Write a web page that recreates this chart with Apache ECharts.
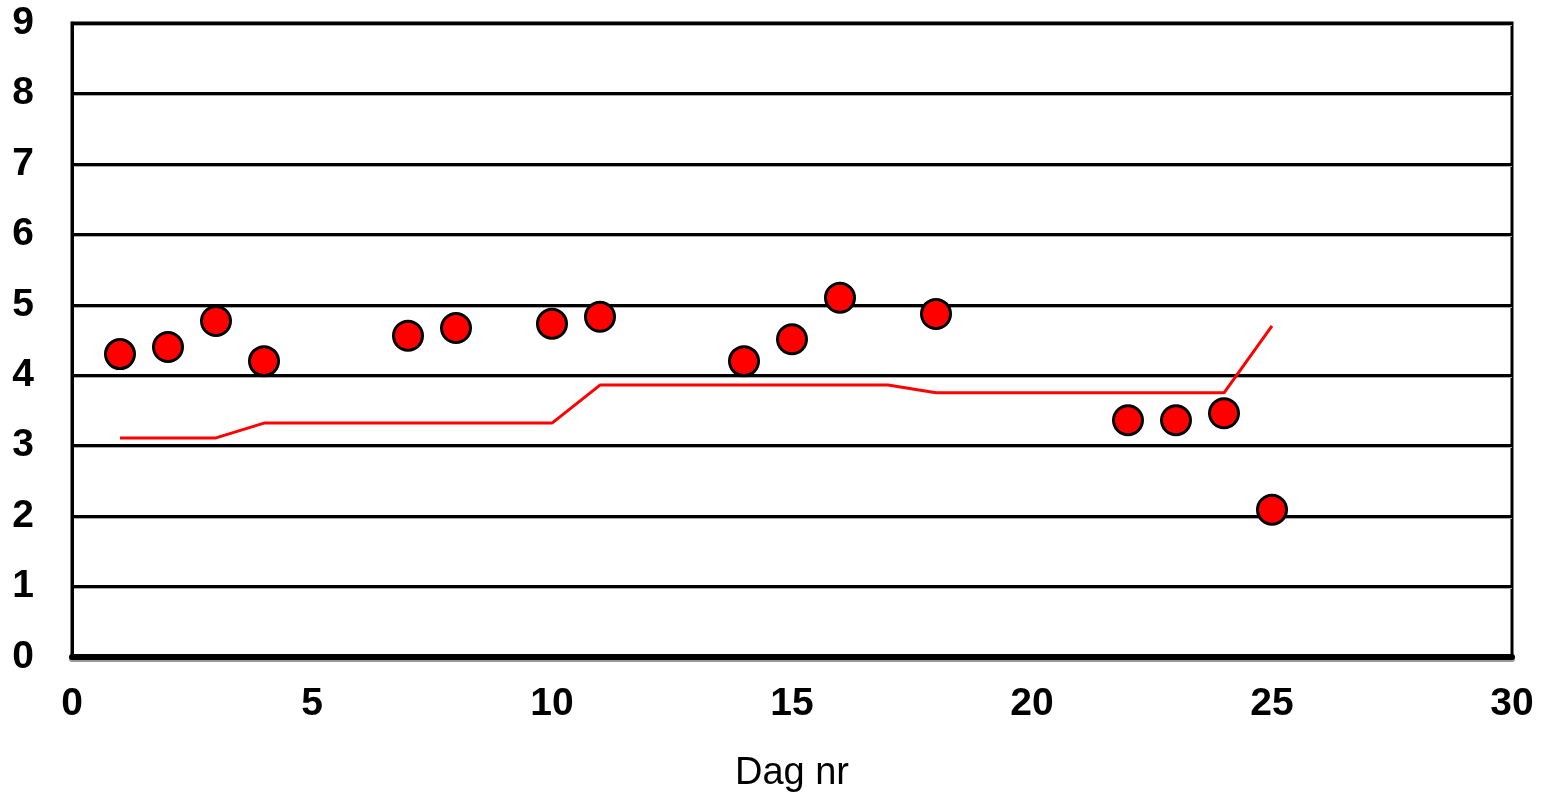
<!DOCTYPE html>
<html>
<head>
<meta charset="utf-8">
<script src="https://cdn.jsdelivr.net/npm/echarts@6/dist/echarts.min.js"></script>
<style>html,body{margin:0;padding:0;background:#fff;}#c{width:1542px;height:800px;}</style>
</head>
<body>
<div id="c"></div>
<script>
const pointDays = [1, 2, 3, 4, 7, 8, 10, 11, 14, 15, 16, 18, 22, 23, 24, 25];
const pointValues = [4.30, 4.40, 4.77, 4.20, 4.56, 4.67, 4.73, 4.83, 4.20, 4.51, 5.10, 4.87, 3.36, 3.36, 3.46, 2.09];
const lineDays = [1, 2, 3, 4, 5, 6, 7, 8, 9, 10, 11, 12, 13, 14, 15, 16, 17, 18, 19, 20, 21, 22, 23, 24, 25];
const lineValues = [3.11, 3.11, 3.11, 3.32, 3.32, 3.32, 3.32, 3.32, 3.32, 3.32, 3.86, 3.86, 3.86, 3.86, 3.86, 3.86, 3.86, 3.75, 3.75, 3.75, 3.75, 3.75, 3.75, 3.75, 4.70];
const xAxisName = 'Dag nr';

const chart = echarts.init(document.getElementById('c'));
const font = 'Liberation Sans, Arial, sans-serif';
chart.setOption({
  animation: false,
  backgroundColor: '#fff',
  grid: { left: 72, right: 30, top: 23, bottom: 143, show: true, borderColor: '#000', borderWidth: 3, containLabel: false, outerBoundsMode: 'none' },
  xAxis: {
    type: 'value', min: 0, max: 30, interval: 5,
    name: xAxisName, nameLocation: 'middle', nameGap: 98,
    nameTextStyle: { fontFamily: font, fontSize: 38, color: '#000' },
    axisLine: { show: true, onZero: false, lineStyle: { color: '#000', width: 6, shadowColor: '#999', shadowOffsetY: 2 } },
    axisTick: { show: false },
    splitLine: { show: false },
    axisLabel: { fontFamily: font, fontSize: 39, fontWeight: 'bold', color: '#000', margin: 28 }
  },
  yAxis: {
    type: 'value', min: 0, max: 9, interval: 1,
    axisLine: { show: true, lineStyle: { color: '#000', width: 3 } },
    axisTick: { show: false },
    splitLine: { show: true, lineStyle: { color: '#000', width: 3, shadowColor: '#aaa', shadowOffsetY: 1 } },
    axisLabel: { fontFamily: font, fontSize: 39, fontWeight: 'bold', color: '#000', margin: 38 }
  },
  series: [
    {
      type: 'line',
      data: lineDays.map((d, i) => [d, lineValues[i]]),
      showSymbol: false,
      symbol: 'none',
      lineStyle: { color: '#ff0000', width: 3 },
      z: 3
    },
    {
      type: 'scatter',
      data: pointDays.map((d, i) => [d, pointValues[i]]),
      symbol: 'circle',
      symbolSize: 29,
      itemStyle: { color: '#ff0000', borderColor: '#000', borderWidth: 3, opacity: 1 },
      z: 4
    }
  ]
});
</script>
</body>
</html>
